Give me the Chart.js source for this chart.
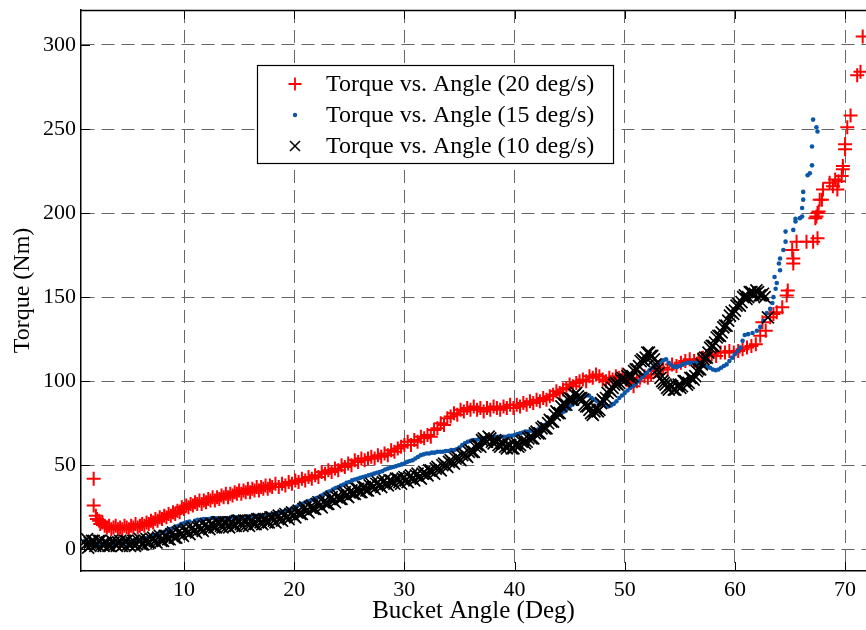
<!DOCTYPE html>
<html>
<head>
<meta charset="utf-8">
<script src="https://cdn.jsdelivr.net/npm/chart.js@4.4.0/dist/chart.umd.min.js"></script>
<style>
    html, body { margin: 0; padding: 0; background: #fff; }
    #wrap { width: 866px; height: 630px; }
</style>
</head>
<body>
<div id="wrap"><canvas id="torqueChart" width="866" height="630"></canvas></div>
<script>
(function () {
    'use strict';

    var xTitle = 'Bucket Angle (Deg)';
    var yTitle = 'Torque (Nm)';
    var xTicks = [10, 20, 30, 40, 50, 60, 70];
    var yTicks = [0, 50, 100, 150, 200, 250, 300];

    // [bucket angle (deg), torque (Nm)]
    var label20 = 'Torque vs. Angle (20 deg/s)';
    var run20 = [
        [1.8,42],[1.8,26],[2.0,20],[2.1,18],[2.3,17],[2.4,15],[2.6,16],[2.8,14],[3.0,13],[3.2,14],[3.4,12],[3.6,13],
        [3.8,14],[4.0,12],[4.2,13],[4.4,12],[4.6,14],[4.8,13],[5.0,12],[5.2,14],[5.4,13],[5.6,15],[5.8,13],[6.0,14],
        [6.2,15],[6.4,14],[6.6,16],[6.8,15],[7.0,17],[7.2,16],[7.4,18],[7.6,17],[7.8,19],[8.0,18],[8.2,20],[8.4,19],
        [8.6,21],[8.8,20],[9.0,22],[9.2,21],[9.4,23],[9.6,22],[9.8,25],[10.0,24],[10.2,26],[10.4,25],[10.6,27],[10.8,26],
        [11.0,28],[11.2,27],[11.4,29],[11.6,27],[11.8,29],[12.0,28],[12.2,30],[12.4,29],[12.6,31],[12.8,29],[13.0,31],[13.2,30],
        [13.4,32],[13.6,31],[13.8,33],[14.0,31],[14.2,33],[14.4,32],[14.6,34],[14.8,33],[15.0,35],[15.2,33],[15.4,35],[15.6,34],
        [15.8,36],[16.0,34],[16.2,36],[16.4,35],[16.6,37],[16.8,35],[17.0,37],[17.2,36],[17.4,38],[17.6,36],[17.8,38],[18.0,37],
        [18.3,39],[18.6,37],[18.9,39],[19.2,38],[19.5,40],[19.8,39],[20.1,41],[20.4,40],[20.7,42],[21.0,41],[21.3,43],[21.6,42],
        [21.9,44],[22.2,43],[22.5,46],[22.8,45],[23.1,47],[23.4,46],[23.7,48],[24.0,47],[24.3,50],[24.6,49],[24.9,51],[25.2,50],
        [25.5,53],[25.8,52],[26.1,54],[26.4,53],[26.7,54],[27.0,55],[27.3,54],[27.6,56],[27.9,55],[28.2,57],[28.5,56],[28.8,59],
        [29.1,58],[29.4,60],[29.7,61],[30.0,62],[30.3,64],[30.6,62],[30.9,65],[31.2,64],[31.5,67],[31.8,66],[32.1,68],[32.4,67],
        [32.7,71],[33.0,72],[33.3,75],[33.6,74],[33.9,78],[34.2,79],[34.5,81],[34.8,80],[35.1,83],[35.4,82],[35.7,84],[36.0,83],
        [36.3,85],[36.6,83],[36.9,84],[37.2,82],[37.5,84],[37.8,83],[38.1,85],[38.4,84],[38.7,83],[39.0,85],[39.3,84],[39.6,86],
        [39.9,84],[40.2,86],[40.5,85],[40.8,87],[41.1,86],[41.4,88],[41.7,87],[42.0,89],[42.3,88],[42.6,90],[42.9,89],[43.2,91],
        [43.5,92],[43.8,94],[44.1,93],[44.4,95],[44.7,96],[45.0,98],[45.3,97],[45.6,99],[45.9,100],[46.2,101],[46.5,100],[46.8,103],
        [47.1,102],[47.4,104],[47.7,103],[48.0,101],[48.3,100],[48.6,102],[48.9,101],[49.2,103],[49.5,102],[49.8,104],[50.1,101],[50.4,99],
        [50.8,97],[51.1,100],[51.4,102],[51.8,103],[52.1,102],[52.4,104],[52.8,106],[53.1,107],[53.5,108],[53.9,107],[54.3,110],[54.7,109],
        [55.1,111],[55.5,112],[55.9,113],[56.3,112],[56.7,113],[57.1,114],[57.5,115],[57.9,116],[58.3,115],[58.7,117],[59.1,117],[59.5,118],
        [59.9,117],[60.3,118],[60.7,119],[61.1,120],[61.5,121],[61.9,122],[62.3,127],[62.5,135],[62.8,130],[63.2,138],[63.5,140],[63.8,141],
        [64.3,144],[64.7,151],[64.8,154],[65.2,178],[65.3,170],[65.3,173],[65.6,183],[66.5,183],[67.1,183],[67.5,185],[67.3,197],[67.4,198],
        [67.5,200],[67.6,201],[67.7,208],[67.9,208],[68.0,214],[68.6,218],[68.9,216],[69.1,220],[69.3,214],[69.4,219],[69.7,222],[69.8,226],
        [69.8,228],[70.0,238],[70.0,241],[70.2,251],[70.5,258],[71.1,282],[71.4,284],[71.6,305]
    ];

    var label15 = 'Torque vs. Angle (15 deg/s)';
    var run15 = [
        [1.0,5],[1.25,4],[1.5,4],[1.75,3.5],[2.0,3.5],[2.25,3],[2.5,3],[2.75,3],[3.0,3],[3.25,3],[3.5,3],[3.75,3.5],
        [4.0,3.5],[4.25,4],[4.5,4],[4.75,4],[5.0,4.5],[5.25,4.5],[5.5,5],[5.75,5],[6.0,5.5],[6.25,6],[6.5,6.5],[6.75,7],
        [7.0,7.5],[7.25,8],[7.5,8.5],[7.75,9.5],[8.0,10],[8.25,10.5],[8.5,11.5],[8.75,12],[9.0,12.5],[9.25,13.5],[9.5,14],[9.75,15],
        [10.0,15.5],[10.25,16],[10.5,16.5],[11.0,17],[11.25,17.5],[11.5,17.5],[11.75,18],[12.0,18],[12.25,18],[12.5,18.5],[12.75,18.5],[13.0,18.5],
        [13.25,18],[13.5,18.5],[13.75,18.5],[14.0,18.5],[14.25,19],[14.5,18.5],[14.75,19],[15.0,19],[15.25,19],[15.5,19],[15.75,19.5],[16.0,19.5],
        [16.25,19.5],[16.5,20],[16.75,20],[17.0,20],[17.25,20],[17.5,20.5],[17.75,20.5],[18.0,21],[18.25,21],[18.5,21.5],[18.75,22],[19.0,22.5],
        [19.25,23],[19.5,23.5],[19.75,24],[20.0,25],[20.25,25.5],[20.5,26.5],[20.75,27],[21.0,28],[21.25,28.5],[21.5,29],[21.75,29.5],[22.0,30.5],
        [22.25,31],[22.5,32],[22.75,33],[23.0,34],[23.25,34.5],[23.5,35.5],[23.75,36.5],[24.0,37],[24.25,38],[24.5,38.5],[24.75,39.5],[25.0,40],
        [25.25,41],[25.5,41.5],[25.75,42],[26.0,42.5],[26.25,43],[26.5,43.5],[26.75,44],[27.0,44.5],[27.25,45],[27.5,45.5],[27.75,46],[28.0,46.5],
        [28.25,47.5],[28.5,48],[28.75,48.5],[29.0,49],[29.25,49.5],[29.5,50],[29.75,50.5],[30.0,51],[30.25,52],[30.5,52.5],[30.75,53],[31.0,54],
        [31.25,55],[31.5,56],[31.75,56.5],[32.0,57],[32.25,57],[32.5,57.5],[32.75,57.5],[33.0,58],[33.25,58],[33.5,58],[33.75,58.5],[34.0,58.5],
        [34.25,59],[34.5,59],[34.75,59.5],[35.0,60.5],[35.25,62],[35.5,63],[35.75,64],[36.0,64.5],[36.25,65],[36.5,65],[36.75,65.5],[37.0,66],
        [37.25,66],[37.5,66.5],[37.75,66.5],[38.0,67],[38.25,67],[38.5,67],[38.75,67],[39.0,67],[39.25,67],[39.5,67.5],[39.75,67.5],[40.0,68],
        [40.25,68.5],[40.5,69],[40.75,69.5],[41.0,70],[41.25,70],[41.5,70.5],[41.75,70.5],[42.0,71],[42.25,72],[42.5,73],[42.75,74],[43.0,75],
        [43.25,76.5],[43.5,77.5],[43.75,79],[44.0,80],[44.25,81],[44.5,82],[44.75,83.5],[45.0,85],[45.25,86],[45.5,87.5],[45.75,89],[46.0,90],
        [46.25,91],[46.5,91.5],[46.75,91.5],[47.0,90],[47.25,89],[47.5,88],[47.75,87],[48.0,86],[48.25,85.5],[48.5,85],[48.75,85.5],[49.0,86.5],
        [49.25,88],[49.5,90],[49.75,91.5],[50.0,93],[50.25,94.5],[50.5,96],[50.75,97],[51.0,98.5],[51.25,100],[51.5,102],[51.75,103.5],[52.0,105],
        [52.25,106.5],[52.5,108],[52.75,109.5],[53.0,110.5],[53.25,111.5],[53.5,112.5],[53.75,113],[54.0,111],[54.25,109.5],[54.5,108.5],[54.75,108.5],[55.0,109],
        [55.25,110],[55.5,110.5],[55.75,111],[56.0,111],[56.25,111],[56.5,111],[56.75,110.5],[57.0,110],[57.25,109],[57.5,108.5],[57.75,108],[58.0,107],
        [58.25,106.5],[58.5,107],[58.75,108],[59.0,109],[59.25,110],[59.5,112],[59.75,114],[60.0,116],[60.25,118],[60.5,120],[60.7,124],[60.9,127.5],
        [61.2,128],[61.6,128.7],[62.0,130],[62.3,132.3],[62.6,136],[62.9,140.6],[63.2,143],[63.4,146.5],[63.5,150],[63.7,155],[63.8,158.4],[63.6,162],
        [64.1,166],[64.0,170],[64.1,173],[64.4,178],[64.6,183],[64.6,189],[65.3,190],[65.5,195],[65.5,196.6],[65.9,197],[66.1,198],[66.1,203],
        [66.2,208],[66.2,212.6],[66.6,222.5],[66.8,223.7],[67.0,228.4],[67.0,239.6],[67.1,255.6],[67.4,251],[67.5,248.5]
    ];

    var label10 = 'Torque vs. Angle (10 deg/s)';
    var run10 = [
        [1.1,3],[1.2,6],[1.3,1],[1.45,4],[1.5,2],[1.65,5],[1.8,5],[1.95,2],[2.1,3],[2.25,5],[2.4,5],[2.55,3],
        [2.7,2],[2.85,4],[3.0,4],[3.15,2],[3.3,2],[3.45,5],[3.6,4],[3.75,3],[3.9,2],[4.05,4],[4.2,5],[4.35,2],
        [4.5,3],[4.65,5],[4.8,5],[4.95,3],[5.1,2],[5.25,4],[5.4,5],[5.55,2],[5.7,3],[5.85,5],[6.0,6],[6.15,3],
        [6.3,3],[6.45,5],[6.6,6],[6.75,4],[6.9,4],[7.05,6],[7.2,7],[7.35,5],[7.5,4],[7.65,7],[7.8,8],[7.95,5],
        [8.1,5],[8.25,8],[8.4,8],[8.55,6],[8.7,6],[8.85,9],[9.0,10],[9.15,7],[9.3,7],[9.45,10],[9.6,11],[9.75,9],
        [9.9,8],[10.05,11],[10.2,12],[10.35,10],[10.5,9],[10.65,12],[10.8,13],[10.95,11],[11.1,10],[11.25,13],[11.4,14],[11.55,12],
        [11.7,11],[11.85,14],[12.0,15],[12.15,13],[12.3,12],[12.45,15],[12.6,15],[12.75,13],[12.9,13],[13.05,16],[13.2,16],[13.35,14],
        [13.5,13],[13.65,16],[13.8,16],[13.95,14],[14.1,13],[14.25,16],[14.4,16],[14.55,14],[14.7,14],[14.85,17],[15.0,17],[15.15,15],
        [15.3,14],[15.45,17],[15.6,17],[15.75,15],[15.9,14],[16.05,17],[16.2,17],[16.35,15],[16.5,15],[16.65,18],[16.8,18],[16.95,16],
        [17.1,15],[17.25,18],[17.4,18],[17.55,16],[17.7,16],[17.85,19],[18.0,19],[18.15,17],[18.3,16],[18.45,19],[18.6,20],[18.75,18],
        [18.9,17],[19.05,20],[19.2,21],[19.35,19],[19.5,18],[19.65,21],[19.8,22],[19.95,20],[20.1,19],[20.25,22],[20.4,23],[20.55,21],
        [20.7,21],[20.85,24],[21.0,25],[21.15,23],[21.3,22],[21.45,25],[21.6,26],[21.75,24],[21.9,24],[22.05,27],[22.2,28],[22.35,26],
        [22.5,25],[22.65,28],[22.8,29],[22.95,27],[23.1,27],[23.25,30],[23.4,31],[23.55,29],[23.7,28],[23.85,31],[24.0,32],[24.15,30],
        [24.3,30],[24.45,33],[24.6,34],[24.75,32],[24.9,31],[25.05,34],[25.2,35],[25.35,33],[25.5,33],[25.65,36],[25.8,36],[25.95,34],
        [26.1,34],[26.25,37],[26.4,37],[26.55,35],[26.7,35],[26.85,38],[27.0,39],[27.15,37],[27.3,36],[27.45,39],[27.6,40],[27.75,38],
        [27.9,37],[28.05,40],[28.2,41],[28.35,39],[28.5,38],[28.65,41],[28.8,41],[28.95,40],[29.1,39],[29.25,42],[29.4,42],[29.55,40],
        [29.7,39],[29.85,42],[30.0,43],[30.15,41],[30.3,40],[30.45,43],[30.6,44],[30.75,42],[30.9,41],[31.05,44],[31.2,45],[31.35,43],
        [31.5,42],[31.65,45],[31.8,46],[31.95,45],[32.1,44],[32.25,47],[32.4,47],[32.55,46],[32.7,45],[32.85,48],[33.0,49],[33.15,48],
        [33.3,47],[33.45,50],[33.6,51],[33.75,50],[33.9,49],[34.05,52],[34.2,53],[34.35,52],[34.5,51],[34.65,54],[34.8,55],[34.95,54],
        [35.1,53],[35.25,56],[35.4,57],[35.55,56],[35.7,55],[35.85,58],[36.0,59],[36.15,58],[36.3,58],[36.45,61],[36.6,62],[36.75,62],
        [36.9,61],[37.05,65],[37.2,66],[37.35,65],[37.5,64],[37.65,67],[37.8,66],[37.95,64],[38.1,63],[38.25,65],[38.4,64],[38.55,62],
        [38.7,61],[38.85,63],[39.0,63],[39.15,61],[39.3,60],[39.45,62],[39.6,62],[39.75,60],[39.9,60],[40.05,62],[40.2,63],[40.35,61],
        [40.5,62],[40.65,64],[40.8,65],[40.95,63],[41.1,64],[41.25,66],[41.4,67],[41.55,66],[41.7,66],[41.85,69],[42.0,70],[42.15,69],
        [42.3,69],[42.45,72],[42.6,73],[42.75,72],[42.9,72],[43.05,75],[43.2,77],[43.35,76],[43.5,76],[43.65,80],[43.8,82],[43.95,81],
        [44.1,81],[44.25,85],[44.4,87],[44.55,86],[44.7,86],[44.85,89],[45.0,90],[45.15,89],[45.3,89],[45.45,92],[45.6,93],[45.75,91],
        [45.9,90],[46.05,90],[46.2,89],[46.35,86],[46.5,85],[46.65,85],[46.8,83],[46.95,81],[47.1,80],[47.25,82],[47.4,84],[47.55,82],
        [47.7,83],[47.85,87],[48.0,89],[48.15,88],[48.3,90],[48.45,93],[48.6,95],[48.75,94],[48.9,96],[49.05,98],[49.2,99],[49.35,98],
        [49.5,99],[49.65,101],[49.8,102],[49.95,100],[50.1,101],[50.25,103],[50.4,104],[50.55,102],[50.7,103],[50.85,106],[51.0,107],[51.15,107],
        [51.3,109],[51.45,112],[51.6,113],[51.75,112],[51.9,114],[52.05,117],[52.2,117],[52.35,115],[52.5,115],[52.65,113],[52.8,110],[52.95,107],
        [53.1,105],[53.25,102],[53.4,100],[53.55,99],[53.7,98],[53.85,96],[54.0,95],[54.15,98],[54.3,97],[54.45,95],[54.6,95],[54.75,97],
        [54.9,98],[55.05,96],[55.2,97],[55.35,100],[55.5,100],[55.65,98],[55.8,99],[55.95,102],[56.1,102],[56.25,101],[56.4,103],[56.55,106],
        [56.7,107],[56.85,107],[57.0,110],[57.15,113],[57.3,114],[57.45,114],[57.6,117],[57.75,120],[57.9,121],[58.05,121],[58.2,123],[58.35,126],
        [58.5,127],[58.65,127],[58.8,129],[58.95,132],[59.1,133],[59.25,133],[59.4,136],[59.55,139],[59.7,141],[59.85,140],[60.0,142],[60.15,145],
        [60.3,146],[60.45,145],[60.6,147],[60.75,150],[60.9,151],[61.05,149],[61.2,150],[61.35,153],[61.5,153],[61.65,151],[61.8,152],[61.95,154],
        [62.1,153],[62.25,151],[62.4,151],[62.55,152],[62.7,150],[63.0,138]
    ];

    var red = '#ff0000';
    var blue = '#0b56a8';
    var black = '#000000';
    var serif = '"Liberation Serif", "Times New Roman", serif';

    function pts(arr) {
        return arr.map(function (p) { return { x: p[0], y: p[1] }; });
    }

    function marker(ctx, style, x, y) {
        ctx.save();
        ctx.beginPath();
        if (style === 'cross') {
            ctx.strokeStyle = red; ctx.lineWidth = 1.8;
            ctx.moveTo(x - 6.5, y); ctx.lineTo(x + 6.5, y);
            ctx.moveTo(x, y - 6.5); ctx.lineTo(x, y + 6.5);
            ctx.stroke();
        } else if (style === 'circle') {
            ctx.fillStyle = blue;
            ctx.arc(x, y, 2.2, 0, Math.PI * 2);
            ctx.fill();
        } else {
            ctx.strokeStyle = black; ctx.lineWidth = 1.5;
            ctx.moveTo(x - 5, y - 5); ctx.lineTo(x + 5, y + 5);
            ctx.moveTo(x + 5, y - 5); ctx.lineTo(x - 5, y + 5);
            ctx.stroke();
        }
        ctx.restore();
    }

    // box, inward ticks and legend drawn the MATLAB way
    var axesFrame = {
        id: 'axesFrame',
        afterDatasetsDraw: function (chart) {
            var ctx = chart.ctx, a = chart.chartArea;
            var xs = chart.scales.x, ys = chart.scales.y;
            ctx.save();
            ctx.strokeStyle = '#000';
            ctx.lineWidth = 1;
            ctx.beginPath();
            xTicks.forEach(function (v) {
                var px = Math.round(xs.getPixelForValue(v)) + 0.5;
                ctx.moveTo(px, a.bottom); ctx.lineTo(px, a.bottom - 9);
                ctx.moveTo(px, a.top); ctx.lineTo(px, a.top + 9);
            });
            yTicks.forEach(function (v) {
                var py = Math.round(ys.getPixelForValue(v)) + 0.5;
                ctx.moveTo(a.left, py); ctx.lineTo(a.left + 9, py);
            });
            ctx.stroke();
            ctx.lineWidth = 1.5;
            ctx.beginPath();
            ctx.moveTo(a.left, a.top + 0.5); ctx.lineTo(a.right, a.top + 0.5);
            ctx.stroke();
            ctx.restore();
        },
        afterDraw: function (chart) {
            var ctx = chart.ctx;
            var box = { x: 257.5, y: 65.5, w: 356, h: 98 };
            ctx.save();
            ctx.fillStyle = '#fff';
            ctx.fillRect(box.x, box.y, box.w, box.h);
            ctx.strokeStyle = '#000';
            ctx.lineWidth = 1.2;
            ctx.strokeRect(box.x, box.y, box.w, box.h);
            ctx.font = '24px ' + serif;
            ctx.textBaseline = 'middle';
            ctx.textAlign = 'left';
            ctx.fillStyle = '#000';
            chart.data.datasets.forEach(function (ds, i) {
                var rowY = 84 + i * 31;
                marker(ctx, ds.pointStyle, 295, rowY);
                ctx.fillText(ds.label, 326, rowY + 1);
            });
            ctx.restore();
        }
    };

    Chart.defaults.font.family = serif;
    Chart.defaults.color = '#000';

    new Chart(document.getElementById('torqueChart').getContext('2d'), {
        type: 'scatter',
        data: {
            datasets: [
                { label: label20, data: pts(run20), order: 2, pointStyle: 'cross', radius: 7,
                  borderColor: red, backgroundColor: red, borderWidth: 2 },
                { label: label15, data: pts(run15), order: 1, pointStyle: 'circle', radius: 2.3,
                  borderColor: blue, backgroundColor: blue, borderWidth: 0 },
                { label: label10, data: pts(run10), order: 0, pointStyle: 'crossRot', radius: 8.5,
                  borderColor: black, backgroundColor: black, borderWidth: 1.7 }
            ]
        },
        options: {
            responsive: false,
            animation: false,
            events: [],
            devicePixelRatio: 1,
            layout: { autoPadding: false, padding: { top: 10, right: 0, left: 0, bottom: 0 } },
            plugins: {
                legend: { display: false },
                tooltip: { enabled: false }
            },
            scales: {
                x: {
                    type: 'linear',
                    min: 0.65,
                    max: 71.9,
                    afterBuildTicks: function (s) { s.ticks = xTicks.map(function (v) { return { value: v }; }); },
                    afterFit: function (s) { s.height = 59; s.paddingLeft = 0; s.paddingRight = 0; },
                    grid: { color: '#666', lineWidth: 1, drawTicks: false },
                    border: { display: true, color: '#000', width: 1.5, dash: [13, 7] },
                    ticks: { font: { size: 22 }, padding: 6, maxRotation: 0 },
                    title: { display: true, text: xTitle, font: { size: 25, lineHeight: 1 }, padding: { top: 0, bottom: 6 } }
                },
                y: {
                    type: 'linear',
                    min: -12.9,
                    max: 320.8,
                    afterBuildTicks: function (s) { s.ticks = yTicks.map(function (v) { return { value: v }; }); },
                    afterFit: function (s) { s.width = 81; s.paddingTop = 0; s.paddingBottom = 0; },
                    grid: { color: '#666', lineWidth: 1, drawTicks: false },
                    border: { display: true, color: '#000', width: 1.5, dash: [13, 7] },
                    ticks: { font: { size: 22 }, padding: 5 },
                    title: { display: true, text: yTitle, font: { size: 24, lineHeight: 1 }, padding: { top: 11, bottom: 0 } }
                }
            }
        },
        plugins: [axesFrame]
    });
})();
</script>
</body>
</html>
